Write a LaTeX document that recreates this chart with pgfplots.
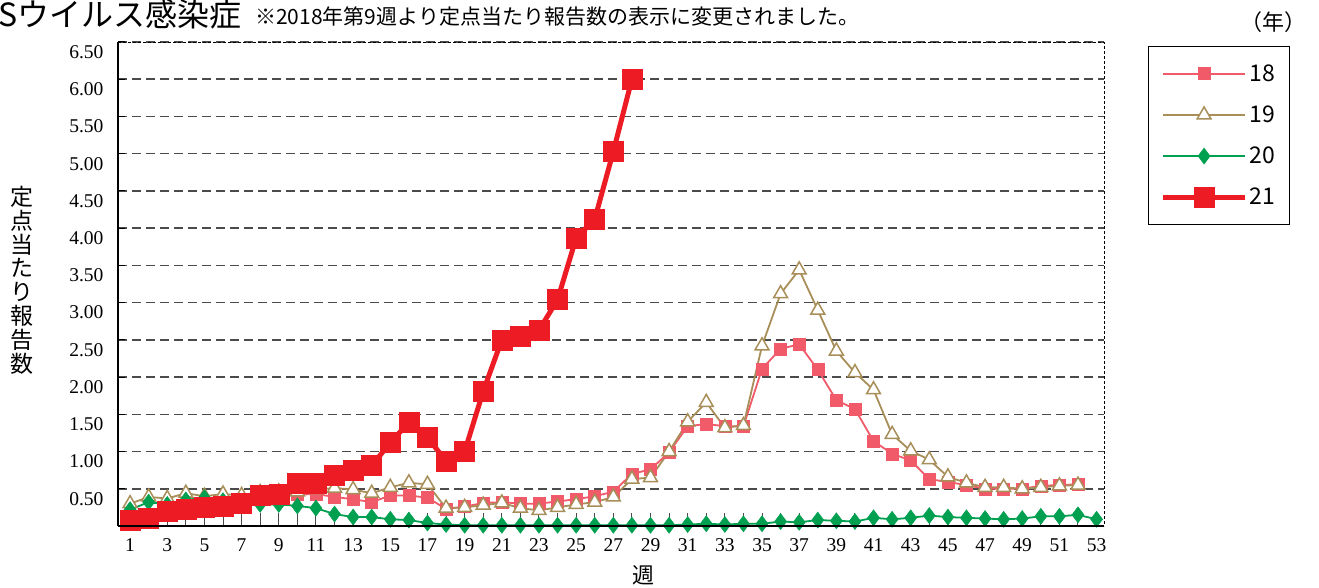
\documentclass[border=0pt]{standalone}
\usepackage{pgfplots}
\pgfplotsset{compat=1.18}
\usepackage{pgfplotstable}
\usepackage{fontspec}
\setmainfont{Liberation Serif}
\newfontfamily\jp{Noto Sans CJK JP}
\definecolor{c18}{RGB}{240,90,105}
\definecolor{c19}{RGB}{168,142,88}
\definecolor{c20}{RGB}{0,160,80}
\definecolor{c21}{RGB}{237,28,36}
\definecolor{gridc}{RGB}{75,75,75}

\pgfplotstableread{
w y18 y19 y20
1 0.10 0.30 0.22
2 0.13 0.39 0.32
3 0.20 0.37 0.29
4 0.24 0.44 0.35
5 0.26 0.40 0.38
6 0.28 0.43 0.34
7 0.31 0.41 0.27
8 0.38 0.45 0.29
9 0.41 0.46 0.29
10 0.42 0.46 0.27
11 0.43 0.49 0.24
12 0.39 0.51 0.16
13 0.36 0.49 0.12
14 0.32 0.44 0.12
15 0.41 0.52 0.09
16 0.41 0.58 0.08
17 0.38 0.56 0.04
18 0.23 0.24 0.02
19 0.26 0.25 0.01
20 0.31 0.28 0.01
21 0.32 0.31 0.01
22 0.30 0.24 0.01
23 0.30 0.21 0.01
24 0.33 0.25 0.01
25 0.36 0.29 0.01
26 0.40 0.32 0.01
27 0.46 0.39 0.01
28 0.70 0.63 0.01
29 0.76 0.65 0.01
30 0.99 1.00 0.01
31 1.34 1.40 0.02
32 1.37 1.66 0.03
33 1.34 1.32 0.02
34 1.34 1.35 0.03
35 2.11 2.42 0.03
36 2.38 3.12 0.06
37 2.44 3.44 0.05
38 2.10 2.90 0.08
39 1.69 2.35 0.07
40 1.57 2.06 0.06
41 1.14 1.83 0.11
42 0.97 1.23 0.09
43 0.88 1.01 0.11
44 0.63 0.89 0.14
45 0.59 0.66 0.12
46 0.55 0.58 0.11
47 0.50 0.52 0.10
48 0.50 0.52 0.09
49 0.50 0.50 0.10
50 0.54 0.52 0.13
51 0.55 0.54 0.13
52 0.56 0.55 0.15
53 nan nan 0.09
}\dataA

\pgfplotstableread{
w y21
1 0.08
2 0.11
3 0.20
4 0.23
5 0.25
6 0.27
7 0.31
8 0.41
9 0.43
10 0.58
11 0.57
12 0.68
13 0.75
14 0.81
15 1.12
16 1.39
17 1.19
18 0.87
19 1.00
20 1.81
21 2.50
22 2.55
23 2.63
24 3.04
25 3.87
26 4.12
27 5.03
28 6.00
}\dataB

\begin{document}
\begin{tikzpicture}[x=1pt,y=1pt]
\path[use as bounding box] (0,0) rectangle (1319,587);
\begin{axis}[
  at={(118pt,61pt)}, anchor=south west,
  width=986pt, height=484pt, scale only axis,
  xmin=0.35, xmax=53.4, ymin=0, ymax=6.5,
  clip=false,
  axis line style={draw=none},
  xtick={1,3,...,53},
  minor xtick={2,4,...,52},
  xtick pos=bottom,
  tick align=inside,
  major tick length=13pt, minor tick length=13pt,
  x tick style={draw=gridc, line width=1pt},
  minor x tick style={draw=gridc, line width=1pt},
  ytick={0.5,1,...,6.5},
  y tick style={draw=none},
  ymajorgrids,
  grid style={draw=gridc, line width=1.5pt, dash pattern=on 9pt off 5pt},
  /pgf/number format/assume math mode=true,
  yticklabel={\pgfmathprintnumber[fixed,fixed zerofill,precision=2]{\tick}},
  ticklabel style={font=\fontsize{19.5}{22}\selectfont},
  yticklabel style={xshift=-11pt, yshift=-10pt},
  xticklabel style={yshift=-9pt},
  legend style={at={(axis description cs:1.0446,0.9917)}, anchor=north west,
    draw=black, line width=1.2pt, font=\jp\fontsize{23}{25}\selectfont,
    inner xsep=12pt, inner ysep=16pt, row sep=19pt,
    /tikz/every even column/.append style={column sep=4pt}},
  legend cell align=left,
  legend image code/.code={\draw[mark repeat=2,mark phase=2,#1] plot coordinates {(0pt,0pt) (41pt,0pt) (82pt,0pt)};},
  after end axis/.code={
    \draw[black, line width=1.2pt] (rel axis cs:0,0) -- (rel axis cs:1,0);
    \draw[black, line width=1.2pt] (rel axis cs:0,0) -- (rel axis cs:0,1);
    \draw[black, line width=0.9pt, dash pattern=on 3pt off 2pt] (rel axis cs:0,1) -- (rel axis cs:1,1) -- (rel axis cs:1,0);
    \foreach \v in {0.5,1,...,6.5} {\draw[black, line width=1pt] (axis cs:0.35,\v) -- ++(7pt,0pt);}
  },
]
\addplot[c18, line width=1.8pt, mark=square*, mark size=6pt, mark options={solid, fill=c18, draw=c18, line width=0.5pt}] table[x=w, y=y18] {\dataA};
\addlegendentry{18}
\addplot[c19, line width=1.8pt, mark=triangle*, mark size=8pt, mark options={solid, fill=white, draw=c19, line width=1.5pt}] table[x=w, y=y19] {\dataA};
\addlegendentry{19}
\addplot[c20, line width=1.8pt, mark=diamond*, mark size=8pt, mark options={solid, fill=c20, draw=c20, line width=0.5pt}] table[x=w, y=y20] {\dataA};
\addlegendentry{20}
\addplot[c21, line width=5pt, mark=square*, mark size=10pt, mark options={solid, fill=c21, draw=c21, line width=0.5pt}] table[x=w, y=y21] {\dataB};
\addlegendentry{21}
\end{axis}
\node[anchor=base west, inner sep=0pt, font=\jp\fontsize{32}{34}\selectfont] at (-2,560) {Sウイルス感染症};
\node[anchor=base west, inner sep=0pt, font=\jp\fontsize{21}{24}\selectfont] at (255,562) {※2018年第9週より定点当たり報告数の表示に変更されました。};
\node[anchor=base east, inner sep=0pt, font=\jp\fontsize{22}{24}\selectfont] at (1307,556) {（年）};
\node[inner sep=0pt, font=\jp\fontsize{22}{24}\selectfont] at (643,12) {週};
\node[inner sep=0pt, align=center, font=\jp\fontsize{23}{23.8}\selectfont] at (22,307) {定\\点\\当\\た\\り\\報\\告\\数};
\end{tikzpicture}
\end{document}
